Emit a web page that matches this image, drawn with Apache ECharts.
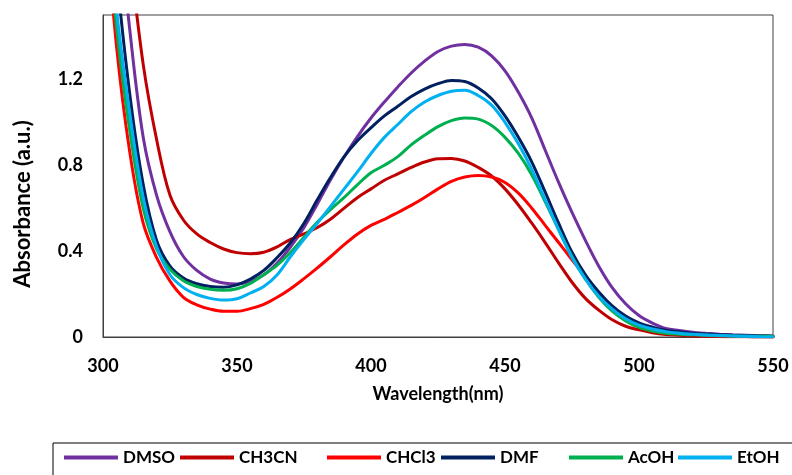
<!DOCTYPE html>
<html>
<head>
<meta charset="utf-8">
<script src="https://cdn.jsdelivr.net/npm/echarts@6/dist/echarts.min.js"></script>
<style>
  html, body { margin: 0; padding: 0; background: #fff; }
  #chart { width: 792px; height: 475px; }
</style>
</head>
<body>
<div id="chart"></div>
<script>
// wavelength grid (nm)
var wavelengths = [300, 305, 310, 315, 320, 325, 330, 335, 340, 345, 350, 355, 360, 365, 370, 375, 380, 385, 390, 395,
  400, 405, 410, 415, 420, 425, 430, 435, 440, 445, 450, 455, 460, 465, 470, 475, 480, 485, 490, 495,
  500, 505, 510, 515, 520, 525, 530, 535, 540, 545, 550];

var names = ["DMSO", "CH3CN", "CHCl3", "DMF", "AcOH", "EtOH"];
var colors = ["#7030A0", "#C00000", "#FF0000", "#002060", "#00B050", "#00B0F0"];

var dmso = [2.75, 2.05, 1.43, 0.93, 0.66, 0.49, 0.375, 0.31, 0.27, 0.252, 0.247, 0.26, 0.29, 0.345, 0.42, 0.51, 0.62, 0.735, 0.84, 0.935,
  1.02, 1.095, 1.165, 1.23, 1.285, 1.33, 1.355, 1.363, 1.35, 1.31, 1.24, 1.14, 1.02, 0.87, 0.72, 0.58, 0.45, 0.33, 0.23, 0.155,
  0.10, 0.065, 0.04, 0.03, 0.022, 0.017, 0.013, 0.01, 0.008, 0.006, 0.005];
var ch3cn = [3.1, 2.4, 1.79, 1.27, 0.92, 0.66, 0.545, 0.48, 0.44, 0.41, 0.393, 0.388, 0.395, 0.42, 0.455, 0.48, 0.51, 0.55, 0.6, 0.65,
  0.69, 0.73, 0.76, 0.79, 0.815, 0.83, 0.832, 0.82, 0.79, 0.75, 0.69, 0.615, 0.53, 0.44, 0.345, 0.255, 0.18, 0.125, 0.08, 0.05,
  0.033, 0.02, 0.012, 0.008, 0.005, 0.003, 0.002, 0.001, 0.001, 0, 0];
var chcl3 = [2.1, 1.36, 0.86, 0.53, 0.37, 0.26, 0.185, 0.15, 0.13, 0.12, 0.12, 0.132, 0.152, 0.185, 0.225, 0.272, 0.322, 0.375, 0.43, 0.48,
  0.52, 0.548, 0.58, 0.613, 0.65, 0.69, 0.725, 0.745, 0.752, 0.745, 0.72, 0.67, 0.6, 0.52, 0.44, 0.36, 0.28, 0.195, 0.125, 0.08,
  0.05, 0.033, 0.022, 0.016, 0.012, 0.009, 0.006, 0.004, 0.002, 0.001, 0];
var dmf = [2.4, 1.7, 1.13, 0.71, 0.45, 0.33, 0.275, 0.248, 0.235, 0.232, 0.243, 0.27, 0.31, 0.37, 0.44, 0.53, 0.64, 0.745, 0.84, 0.915,
  0.975, 1.03, 1.075, 1.12, 1.155, 1.18, 1.195, 1.19, 1.16, 1.11, 1.03, 0.93, 0.815, 0.675, 0.53, 0.395, 0.29, 0.21, 0.145, 0.098,
  0.066, 0.046, 0.032, 0.024, 0.018, 0.014, 0.011, 0.008, 0.006, 0.005, 0.004];
var acoh = [2.15, 1.45, 0.96, 0.60, 0.41, 0.315, 0.262, 0.235, 0.222, 0.218, 0.225, 0.25, 0.29, 0.335, 0.395, 0.465, 0.535, 0.595, 0.65, 0.71,
  0.765, 0.80, 0.84, 0.895, 0.94, 0.98, 1.008, 1.02, 1.015, 0.985, 0.93, 0.855, 0.755, 0.63, 0.5, 0.375, 0.27, 0.185, 0.12, 0.075,
  0.045, 0.028, 0.018, 0.013, 0.01, 0.008, 0.006, 0.005, 0.004, 0.003, 0.003];
var etoh = [2.2, 1.53, 1.04, 0.65, 0.42, 0.29, 0.23, 0.198, 0.18, 0.172, 0.178, 0.205, 0.235, 0.29, 0.375, 0.455, 0.53, 0.61, 0.69, 0.77,
  0.855, 0.93, 0.99, 1.05, 1.095, 1.125, 1.145, 1.15, 1.125, 1.08, 1.0, 0.9, 0.78, 0.64, 0.5, 0.37, 0.27, 0.19, 0.13, 0.085,
  0.055, 0.037, 0.025, 0.018, 0.013, 0.009, 0.007, 0.005, 0.003, 0.001, 0];

var values = [dmso, ch3cn, chcl3, dmf, acoh, etoh];

// x position of each legend entry (Excel spaced them unevenly)
var legendLeft = [64, 180, 327, 441, 569, 678];

var font = "Lato";

var series = [];
var legends = [];
for (let i = 0; i < names.length; i++) {
  let data = [];
  for (let j = 0; j < wavelengths.length; j++) {
    data.push([wavelengths[j], values[i][j]]);
  }
  series.push({
    name: names[i],
    type: "line",
    data: data,
    smooth: 0.35,
    symbol: "none",
    clip: true,
    lineStyle: { color: colors[i], width: 3, cap: "round" },
    itemStyle: { color: colors[i] },
    emphasis: { disabled: true }
  });
  legends.push({
    data: [names[i]],
    left: legendLeft[i],
    top: 449,
    icon: "rect",
    itemWidth: 54,
    itemHeight: 4,
    itemGap: 0,
    padding: 0,
    selectedMode: false,
    textStyle: { fontFamily: font, fontWeight: "bold", fontSize: 17, color: "#000" }
  });
}

var option = {
  animation: false,
  backgroundColor: "#fff",
  grid: {
    left: 103, right: 19, top: 15, bottom: 138,
    show: true, borderColor: "#404040", borderWidth: 1
  },
  legend: legends,
  xAxis: {
    type: "value",
    min: 300, max: 550, interval: 50,
    name: "Wavelength(nm)",
    nameLocation: "middle",
    nameGap: 48,
    nameTextStyle: { fontFamily: font, fontWeight: "bold", fontSize: 18, color: "#000" },
    axisLine: { show: true, lineStyle: { color: "#404040", width: 1 } },
    axisTick: { show: false },
    splitLine: { show: false },
    axisLabel: { fontFamily: font, fontWeight: "bold", fontSize: 18, color: "#000", margin: 20 }
  },
  yAxis: {
    type: "value",
    min: 0, max: 1.5, interval: 0.4,
    axisLine: { show: true, lineStyle: { color: "#404040", width: 1 } },
    axisTick: { show: false },
    splitLine: { show: false },
    axisLabel: {
      fontFamily: font, fontWeight: "bold", fontSize: 18, color: "#000", margin: 20,
      formatter: function (v) {
        return v > 1.45 ? "" : String(v);
      }
    }
  },
  graphic: [
    {
      type: "rect",
      shape: { x: 53, y: 443, width: 800, height: 60 },
      style: { fill: "none", stroke: "#000", lineWidth: 1 },
      z: 0
    },
    {
      type: "text",
      x: 23, y: 204,
      rotation: Math.PI / 2,
      style: {
        text: "Absorbance (a.u.)",
        font: "bold 22px Lato",
        fill: "#000",
        align: "center",
        verticalAlign: "middle"
      }
    }
  ],
  series: series
};

var myChart = echarts.init(document.getElementById("chart"));
myChart.setOption(option);
</script>
</body>
</html>
